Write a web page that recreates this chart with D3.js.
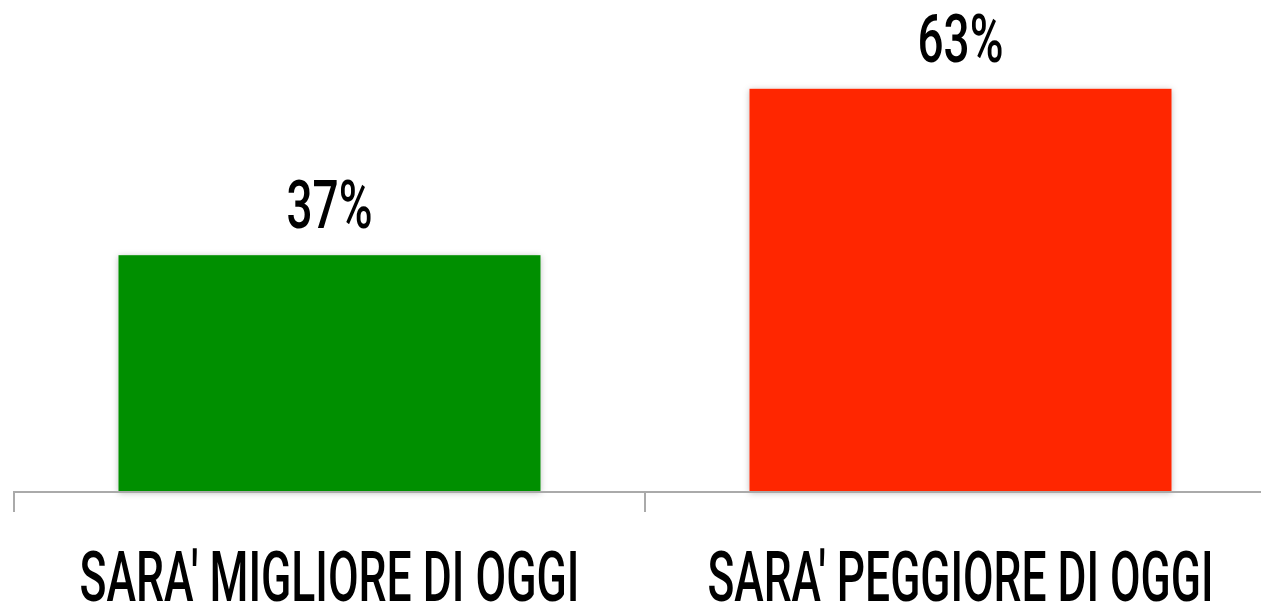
<!DOCTYPE html>
<html><head><meta charset="utf-8">
<script src="https://cdn.jsdelivr.net/npm/d3@7"></script>
<style>html,body{margin:0;padding:0;background:#fff;overflow:hidden}</style>
</head><body>
<svg id="chart" width="1261" height="603"></svg>
<script>
const categories = ["SARA' MIGLIORE DI OGGI", "SARA' PEGGIORE DI OGGI"];
const values = [37, 63];
const valueLabels = ["37%", "63%"];
const colors = ["#008f00", "#ff2600"];

const svg = d3.select("#chart");
const FONT = "Roboto, 'Liberation Sans', sans-serif";
const x = d3.scaleBand().domain(categories).range([14, 1276]).paddingInner(0).paddingOuter(0);
const y = d3.scaleLinear().domain([0, 70]).range([492, 44]);

const defs = svg.append("defs");
const f = defs.append("filter").attr("id", "sh").attr("x", "-5%").attr("y", "-5%").attr("width", "110%").attr("height", "110%");
f.append("feDropShadow").attr("dx", 0).attr("dy", 1).attr("stdDeviation", 3).attr("flood-color", "#000").attr("flood-opacity", 0.25);

const barW = 422;
svg.selectAll("rect.bar").data(values).join("rect")
  .attr("class", "bar")
  .attr("x", (d, i) => x(categories[i]) + x.bandwidth() / 2 - barW / 2)
  .attr("width", barW)
  .attr("y", d => y(d))
  .attr("height", d => y(0) - y(d))
  .attr("fill", (d, i) => colors[i])
  .attr("filter", "url(#sh)");

// axis
const axis = d3.axisBottom(x).tickSize(20).tickFormat("");
const g = svg.append("g").attr("transform", `translate(0,${y(0)})`).call(axis);
g.select(".domain").attr("stroke", "#aaaaaa").attr("stroke-width", 2).attr("d", `M14,20V0H1276`);
g.selectAll(".tick line").attr("stroke", "#aaaaaa").attr("stroke-width", 2)
  .attr("transform", `translate(${-x.bandwidth()/2},0)`);

// condensed text helper: scale horizontally to a target width
function fitText(sel, widthFn) {
  sel.each(function(d, i) {
    const t = d3.select(this);
    const cx = +t.attr("data-cx"), cy = +t.attr("data-cy");
    const w = this.getComputedTextLength();
    const sx = widthFn(d, i) / w;
    t.attr("x", 0).attr("y", 0)
     .attr("transform", `translate(${cx},${cy}) scale(${sx},1)`);
  });
}

// value labels
svg.selectAll("text.val").data(values).join("text")
  .attr("class", "val")
  .attr("data-cx", (d, i) => x(categories[i]) + x.bandwidth() / 2)
  .attr("data-cy", d => y(d) - 27)
  .attr("text-anchor", "middle")
  .attr("font-family", FONT).attr("font-weight", 500).attr("font-size", 66)
  .attr("fill", "#000")
  .text((d, i) => valueLabels[i])
  .call(fitText, () => 86);

// category labels
svg.selectAll("text.cat").data(categories).join("text")
  .attr("class", "cat")
  .attr("data-cx", d => x(d) + x.bandwidth() / 2)
  .attr("data-cy", 601)
  .attr("text-anchor", "middle")
  .attr("font-family", FONT).attr("font-weight", 500).attr("font-size", 70)
  .attr("fill", "#000")
  .text(d => d)
  .call(fitText, (d, i) => i === 0 ? 500 : 506);
</script>
</body></html>
